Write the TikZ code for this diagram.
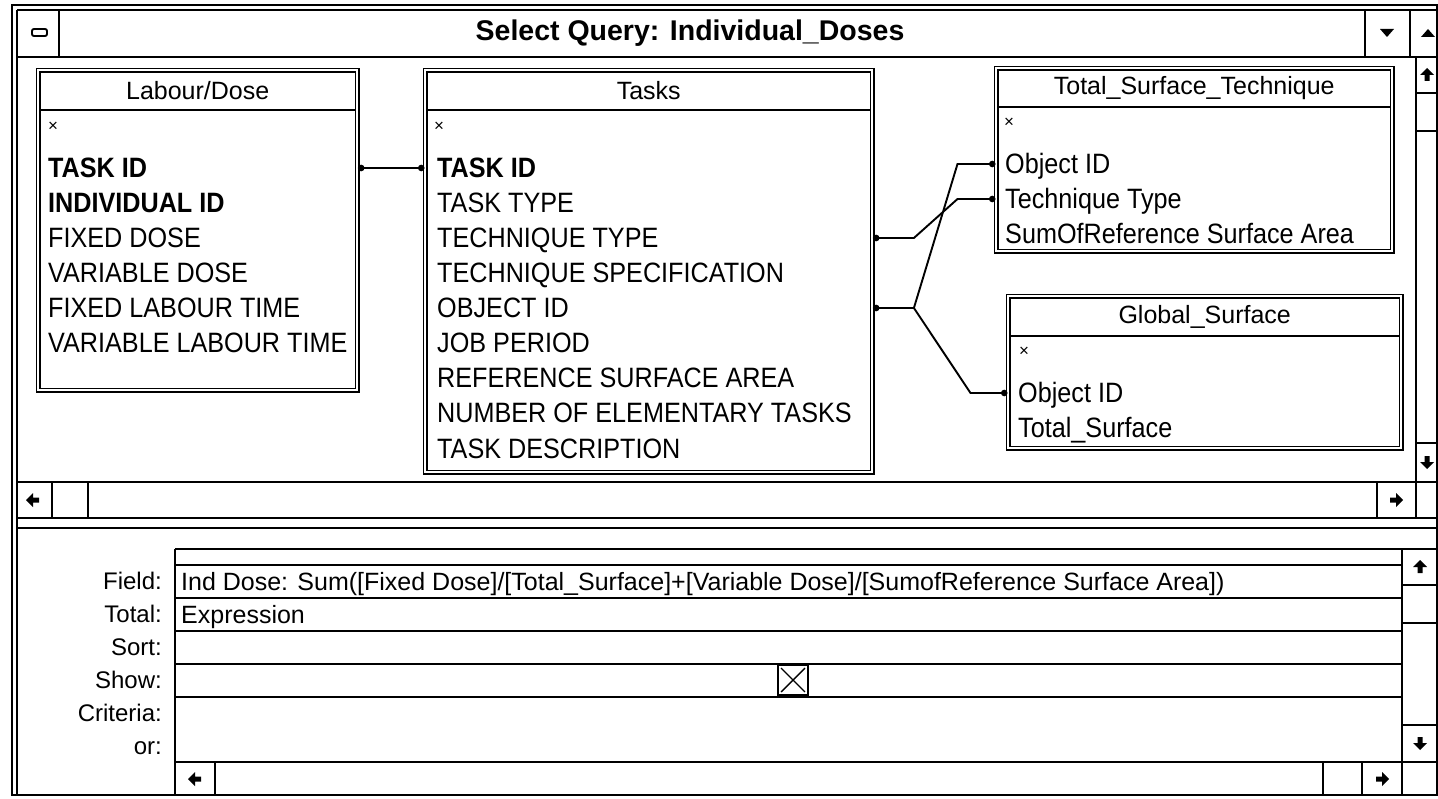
\documentclass[tikz,border=0pt]{standalone}
\usepackage{fontspec}
\setmainfont{Liberation Sans}
\newfontfamily\fieldfam{Liberation Sans}[FakeStretch=0.9]
\usetikzlibrary{arrows.meta, positioning, calc}

\begin{document}
\begin{tikzpicture}[x=1pt, y=-1pt,
                    chrome/.style={line width=1.9pt},
                    tablebox/.style={rectangle, draw, double, double distance=2.4pt, line width=1.4pt, anchor=north west, inner sep=0pt},
                    tabtitle/.style={inner sep=0pt, font=\fontsize{25}{30}\selectfont},
                    field/.style={anchor=west, inner sep=0pt, text height=20pt, text depth=0pt, font=\fieldfam\fontsize{28}{35}\selectfont},
                    allfields/.style={anchor=west, inner sep=0pt, font=\fontsize{17}{17}\selectfont},
                    link/.style={line width=1.9pt, {Circle[length=6.5pt]}-{Circle[length=6.5pt]}},
                    branch/.style={line width=1.9pt, -{Circle[length=6.5pt]}},
                    gridlabel/.style={anchor=east, inner sep=0pt, text height=17pt, text depth=0pt, font=\fontsize{24}{28}\selectfont},
                    gridtext/.style={anchor=west, inner sep=0pt, text height=18pt, text depth=0pt, font=\fontsize{25}{30}\selectfont},
                    sarrow/.pic={\fill (0,-7) -- (7,0) -- (2.5,0) -- (2.5,6) -- (-2.5,6) -- (-2.5,0) -- (-7,0) -- cycle;}]

    \useasboundingbox (0,0) rectangle (1438,799);

    % Window frame and title bar
    \draw[chrome] (12,5) rectangle (1437,795);
    \draw[chrome] (17,10) -- (1437,10);
    \draw[chrome] (17,10) -- (17,795);
    \draw[chrome] (17,57) -- (1437,57);
    \draw[chrome] (59,10) -- (59,57);
    \draw[chrome, rounded corners=2pt] (32,29) rectangle (47,36);
    \draw[chrome] (1365,10) -- (1365,57);
    \draw[chrome] (1410,10) -- (1410,57);
    \fill (1380,29) -- (1394,29) -- (1387,37) -- cycle;
    \fill (1421,37) -- (1435,37) -- (1428,29) -- cycle;
    \node[font=\bfseries\fontsize{28.5}{30}\selectfont] (title) at (690,33) {Select Query: Individual\_Doses};

    % Scroll bars of the table pane
    \draw[chrome] (1416,57) -- (1416,518);
    \draw[chrome] (1416,93) -- (1437,93);
    \draw[chrome] (1416,131) -- (1437,131);
    \draw[chrome] (1416,443) -- (1437,443);
    \draw[chrome] (17,482) -- (1437,482);
    \draw[chrome] (17,518) -- (1437,518);
    \draw[chrome] (17,528) -- (1437,528);
    \draw[chrome] (52,482) -- (52,518);
    \draw[chrome] (88,482) -- (88,518);
    \draw[chrome] (1377,482) -- (1377,518);
    \pic at (1427,75) {sarrow};
    \pic[rotate=180] at (1427,462) {sarrow};
    \pic[rotate=90] at (33,500) {sarrow};
    \pic[rotate=-90] at (1396,500) {sarrow};

    % Tables
    \node[tablebox, minimum width=319pt, minimum height=320pt] (lab) at (37.5,69.5) {};
    \node[tablebox, minimum width=447pt, minimum height=402pt] (tasks) at (424.5,69.5) {};
    \node[tablebox, minimum width=396pt, minimum height=183pt] (tst) at (995.5,67.5) {};
    \node[tablebox, minimum width=393pt, minimum height=152pt] (glob) at (1007.5,295.5) {};

    \draw[line width=1.4pt] ($(lab.north west)+(2.5,40.5)$) -- ($(lab.north east)+(-2.5,40.5)$);
    \draw[line width=1.4pt] ($(tasks.north west)+(2.5,40.5)$) -- ($(tasks.north east)+(-2.5,40.5)$);
    \draw[line width=1.4pt] ($(tst.north west)+(2.5,39.5)$) -- ($(tst.north east)+(-2.5,39.5)$);
    \draw[line width=1.4pt] ($(glob.north west)+(2.5,40.5)$) -- ($(glob.north east)+(-2.5,40.5)$);

    \node[tabtitle] (lab-title) at ($(lab.north)+(0,21)$) {Labour/Dose};
    \node[tabtitle] (tasks-title) at ($(tasks.north)+(0,21)$) {Tasks};
    \node[tabtitle] (tst-title) at ($(tst.north)+(0,20.5)$) {Total\_Surface\_Technique};
    \node[tabtitle] (glob-title) at ($(glob.north)+(0,21)$) {Global\_Surface};

    % Fields
    \node[allfields] (lab-all) at (48,127) {×};
    \node[allfields] (tasks-all) at (434,127) {×};
    \node[allfields] (tst-all) at (1004,123) {×};
    \node[allfields] (glob-all) at (1019,352) {×};

    \foreach \txt [count=\i from 0] in {\textbf{TASK ID}, \textbf{INDIVIDUAL ID}, FIXED DOSE, VARIABLE DOSE, FIXED LABOUR TIME, VARIABLE LABOUR TIME}
        \node[field] (labf\i) at (48,168+35*\i) {\txt};
    \foreach \txt [count=\i from 0] in {\textbf{TASK ID}, TASK TYPE, TECHNIQUE TYPE, TECHNIQUE SPECIFICATION, OBJECT ID, JOB PERIOD, REFERENCE SURFACE AREA, NUMBER OF ELEMENTARY TASKS, TASK DESCRIPTION}
        \node[field] (tskf\i) at (437,168+35*\i) {\txt};
    \foreach \txt [count=\i from 0] in {Object ID, Technique Type, SumOfReference Surface Area}
        \node[field] (tstf\i) at (1005,164+35*\i) {\txt};
    \foreach \txt [count=\i from 0] in {Object ID, Total\_Surface}
        \node[field] (globf\i) at (1018,393+35*\i) {\txt};

    % Joins
    \draw[link] (lab.east |- labf0) -- (tasks.west |- tskf0);
    \draw[link] (tasks.east |- tskf2) -- ++(41,0) -- ($(tst.west |- tstf1)+(-38,0)$) -- (tst.west |- tstf1);
    \draw[link] (tasks.east |- tskf4) -- ++(41,0) coordinate (fork) -- ($(tst.west |- tstf0)+(-38,0)$) -- (tst.west |- tstf0);
    \draw[branch] (fork) -- ($(glob.west |- globf0)+(-37,0)$) -- (glob.west |- globf0);

    % Query grid
    \draw[chrome] (175,549) -- (1437,549);
    \draw[chrome] (175,549) -- (175,795);
    \draw[chrome] (1402,549) -- (1402,795);
    \foreach \y in {565,598,631,664,697}
        \draw[chrome] (175,\y) -- (1402,\y);
    \draw[chrome] (175,762) -- (1437,762);
    \draw[chrome] (1402,585) -- (1437,585);
    \draw[chrome] (1402,623) -- (1437,623);
    \draw[chrome] (1402,725) -- (1437,725);
    \draw[chrome] (215,762) -- (215,795);
    \draw[chrome] (1323,762) -- (1323,795);
    \draw[chrome] (1362,762) -- (1362,795);
    \pic at (1420,567) {sarrow};
    \pic[rotate=180] at (1420,743) {sarrow};
    \pic[rotate=90] at (195,779) {sarrow};
    \pic[rotate=-90] at (1382,779) {sarrow};

    \foreach \lbl/\y in {Field:/581, Total:/614, Sort:/647, Show:/680, Criteria:/713, or:/746}
        \node[gridlabel] (row\y) at (162,\y) {\lbl};

    \node[gridtext] (fieldexpr) at (181,581) {Ind Dose: Sum([Fixed Dose]/[Total\_Surface]+[Variable Dose]/[SumofReference Surface Area])};
    \node[gridtext] (totalexpr) at (181,614) {Expression};

    \node[draw, line width=1.9pt, minimum size=30pt, inner sep=0pt] (showbox) at (793,680) {};
    \draw[line width=1.4pt] ($(showbox.north west)+(4,4)$) -- ($(showbox.south east)+(-4,-4)$);
    \draw[line width=1.4pt] ($(showbox.north east)+(-4,4)$) -- ($(showbox.south west)+(4,-4)$);

\end{tikzpicture}
\end{document}
